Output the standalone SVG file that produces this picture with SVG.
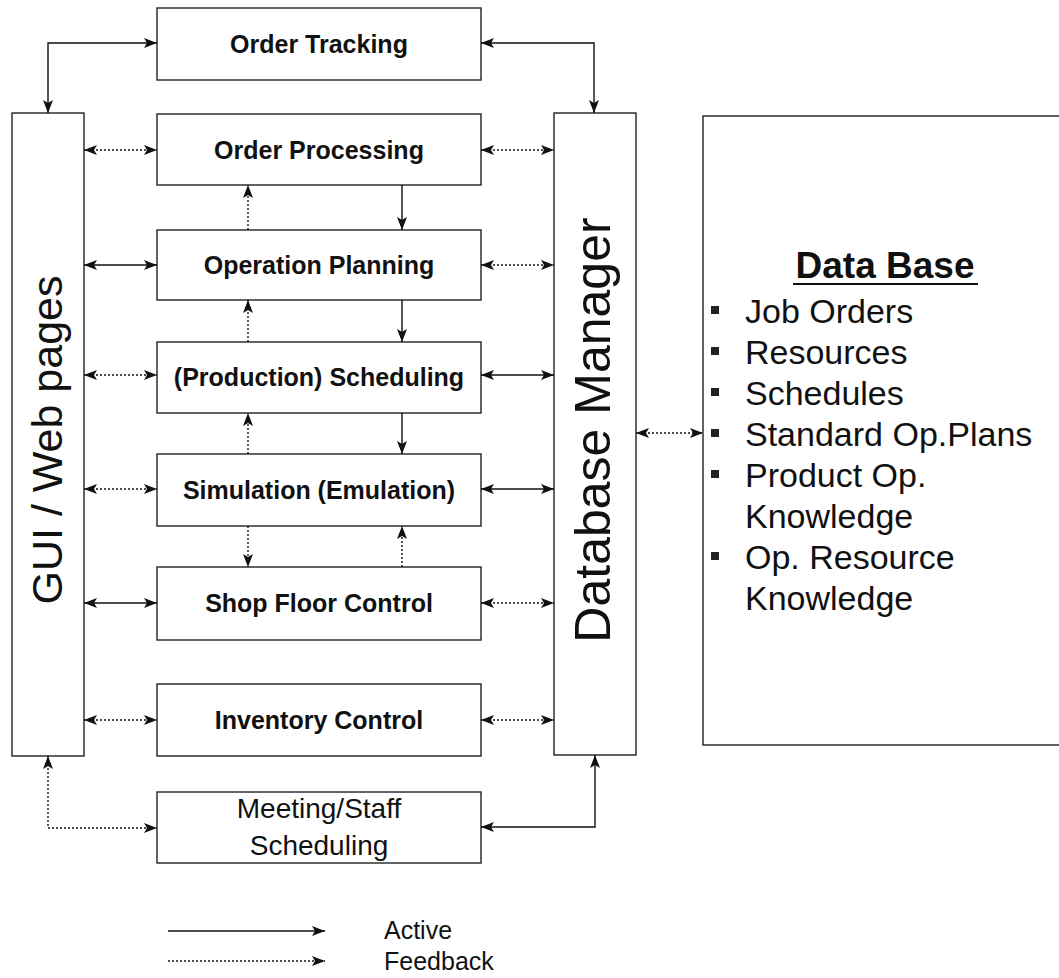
<svg xmlns="http://www.w3.org/2000/svg" width="1059" height="978" viewBox="0 0 1059 978">
<defs>
<marker id="ah" markerUnits="userSpaceOnUse" markerWidth="13" markerHeight="10" refX="13" refY="5" orient="auto-start-reverse">
<path d="M0,0 L13,5 L0,10 L3,5 z" fill="#111"/>
</marker>
<style>
.box{fill:#fff;stroke:#222;stroke-width:1.4}
.lbl{font-family:"Liberation Sans",Arial,sans-serif;font-weight:bold;font-size:25px;fill:#111;text-anchor:middle}
.reg{font-family:"Liberation Sans",Arial,sans-serif;fill:#111}
.a{fill:none;stroke:#111;stroke-width:1.4}
.f{fill:none;stroke:#111;stroke-width:1.4;stroke-dasharray:2,2}
.both{marker-start:url(#ah);marker-end:url(#ah)}
.end{marker-end:url(#ah)}
</style>
</defs>
<rect width="1059" height="978" fill="#fff"/>

<g id="gui">
<rect class="box" x="12" y="113" width="72" height="643"/>
<text class="reg" font-size="43" text-anchor="middle" transform="translate(62,440) rotate(-90)">GUI / Web pages</text>
</g>
<g id="dbmanager">
<rect class="box" x="554" y="113" width="82" height="642"/>
<text class="reg" font-size="50" text-anchor="middle" transform="translate(610,430) rotate(-90)">Database Manager</text>
</g>
<g id="database">
<rect class="box" x="703" y="116" width="400" height="629"/>
<text class="reg" x="885" y="278" font-size="37" font-weight="bold" text-anchor="middle">Data Base</text>
<line x1="793" y1="284" x2="978" y2="284" stroke="#111" stroke-width="2"/>
<g class="reg" font-size="34">
<rect x="711" y="306" width="8" height="8" fill="#222"/><text x="745" y="323">Job Orders</text>
<rect x="711" y="347" width="8" height="8" fill="#222"/><text x="745" y="364">Resources</text>
<rect x="711" y="388" width="8" height="8" fill="#222"/><text x="745" y="405">Schedules</text>
<rect x="711" y="429" width="8" height="8" fill="#222"/><text x="745" y="446">Standard Op.Plans</text>
<rect x="711" y="470" width="8" height="8" fill="#222"/><text x="745" y="487">Product Op.</text>
<text x="745" y="528">Knowledge</text>
<rect x="711" y="552" width="8" height="8" fill="#222"/><text x="745" y="569">Op. Resource</text>
<text x="745" y="610">Knowledge</text>
</g>
</g>

<g id="order-tracking"><rect class="box" x="157" y="8" width="324" height="72"/><text class="lbl" x="319" y="53">Order Tracking</text></g>
<g id="order-processing"><rect class="box" x="157" y="114" width="324" height="71"/><text class="lbl" x="319" y="159">Order Processing</text></g>
<g id="operation-planning"><rect class="box" x="157" y="230" width="324" height="70"/><text class="lbl" x="319" y="274">Operation Planning</text></g>
<g id="production-scheduling"><rect class="box" x="157" y="342" width="324" height="71"/><text class="lbl" x="319" y="386">(Production) Scheduling</text></g>
<g id="simulation"><rect class="box" x="157" y="454" width="324" height="72"/><text class="lbl" x="319" y="499">Simulation (Emulation)</text></g>
<g id="shop-floor"><rect class="box" x="157" y="567" width="324" height="73"/><text class="lbl" x="319" y="612">Shop Floor Control</text></g>
<g id="inventory"><rect class="box" x="157" y="684" width="324" height="72"/><text class="lbl" x="319" y="729">Inventory Control</text></g>
<g id="meeting"><rect class="box" x="157" y="792" width="324" height="71"/>
<text class="reg" x="319" y="818" font-size="28" text-anchor="middle">Meeting/Staff</text>
<text class="reg" x="319" y="855" font-size="28" text-anchor="middle">Scheduling</text></g>

<g id="connectors">
<path class="a both" d="M48,113 V43 H157"/>
<path class="a both" d="M481,43 H594 V113"/>
<path class="f both" d="M48,756 V828 H157"/>
<path class="a both" d="M481,827 H595 V755"/>

<line class="f both" x1="84" y1="150" x2="157" y2="150"/>
<line class="f both" x1="481" y1="150" x2="554" y2="150"/>
<line class="a both" x1="84" y1="265" x2="157" y2="265"/>
<line class="f both" x1="481" y1="265" x2="554" y2="265"/>
<line class="f both" x1="84" y1="375" x2="157" y2="375"/>
<line class="a both" x1="481" y1="375" x2="554" y2="375"/>
<line class="f both" x1="84" y1="489" x2="157" y2="489"/>
<line class="a both" x1="481" y1="489" x2="554" y2="489"/>
<line class="a both" x1="84" y1="603" x2="157" y2="603"/>
<line class="f both" x1="481" y1="603" x2="554" y2="603"/>
<line class="f both" x1="84" y1="720" x2="157" y2="720"/>
<line class="f both" x1="481" y1="720" x2="554" y2="720"/>
<line class="f both" x1="636" y1="433" x2="703" y2="433"/>

<line class="f end" x1="248" y1="230" x2="248" y2="185"/>
<line class="a end" x1="402" y1="185" x2="402" y2="230"/>
<line class="f end" x1="248" y1="342" x2="248" y2="300"/>
<line class="a end" x1="402" y1="300" x2="402" y2="342"/>
<line class="f end" x1="248" y1="454" x2="248" y2="413"/>
<line class="a end" x1="402" y1="413" x2="402" y2="454"/>
<line class="f end" x1="248" y1="526" x2="248" y2="567"/>
<line class="f end" x1="402" y1="567" x2="402" y2="526"/>
</g>

<g id="legend">
<line class="a end" x1="168" y1="931" x2="325" y2="931"/>
<line class="f end" x1="168" y1="961" x2="325" y2="961"/>
<text class="reg" x="384" y="939" font-size="25">Active</text>
<text class="reg" x="384" y="970" font-size="25">Feedback</text>
</g>
</svg>
